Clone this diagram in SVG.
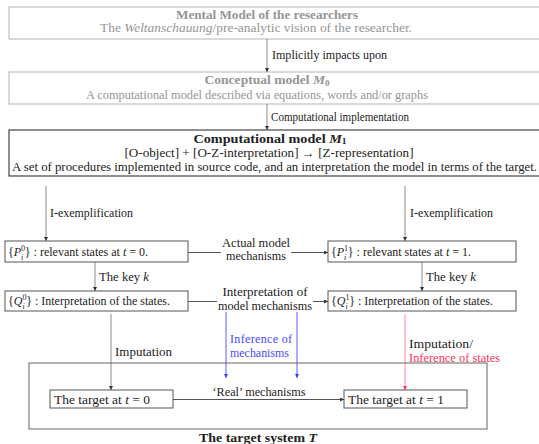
<svg xmlns="http://www.w3.org/2000/svg" width="539" height="444" viewBox="0 0 539 444">
<defs>
<style>
text{font-family:"Liberation Serif","DejaVu Serif",serif;font-size:12px;fill:#222}
.g{fill:#959595}
.b{font-weight:bold}
.i{font-style:italic}
.m{text-anchor:middle}
.lb{fill:#fff;stroke:#b4b4b4;stroke-width:1}
.bk{fill:#fff;stroke:#333;stroke-width:1.1}
.bx{fill:#fff;stroke:#555;stroke-width:1}
.c{fill:none;stroke:#8a8a8a;stroke-width:1}
.cd{fill:none;stroke:#555;stroke-width:1}
.cb{fill:none;stroke:#5a5aff;stroke-width:1}
.cr{fill:none;stroke:#ff8a9a;stroke-width:1}
.wb{fill:#fff;stroke:none}
.blue{fill:#4848ff}
.red{fill:#ff3355}
.s{font-size:8px}
.big{font-size:13px}
</style>
<marker id="ah" viewBox="0 0 6 6" refX="6" refY="3" markerWidth="4" markerHeight="4" orient="auto" markerUnits="userSpaceOnUse"><path d="M0,0 L6,3 L0,6 z" fill="#333"/></marker>
<marker id="ahb" viewBox="0 0 6 6" refX="6" refY="3" markerWidth="4" markerHeight="4" orient="auto" markerUnits="userSpaceOnUse"><path d="M0,0 L6,3 L0,6 z" fill="#3a3aff"/></marker>
<marker id="ahr" viewBox="0 0 6 6" refX="6" refY="3" markerWidth="4" markerHeight="4" orient="auto" markerUnits="userSpaceOnUse"><path d="M0,0 L6,3 L0,6 z" fill="#ff3355"/></marker>
</defs>

<g id="mental">
<rect class="lb" x="9" y="7" width="540" height="32"/>
<text class="g b m" x="267" y="19" textLength="182" lengthAdjust="spacingAndGlyphs">Mental Model of the researchers</text>
<text class="g m" x="256" y="32" textLength="312" lengthAdjust="spacingAndGlyphs">The <tspan class="i">Weltanschauung</tspan>/pre-analytic vision of the researcher.</text>
</g>

<g id="conceptual">
<rect class="lb" x="9" y="72" width="540" height="32"/>
<text class="g b m" x="267" y="84" textLength="125" lengthAdjust="spacingAndGlyphs">Conceptual model <tspan class="i">M</tspan><tspan class="s" dy="1.5">0</tspan></text>
<text class="g m" x="257" y="98.5" textLength="342" lengthAdjust="spacingAndGlyphs">A computational model described via equations, words and/or graphs</text>
</g>

<g id="computational">
<rect class="bk" x="9" y="130" width="540" height="46"/>
<text class="b m" x="270" y="142.5" textLength="153" lengthAdjust="spacingAndGlyphs">Computational model <tspan class="i">M</tspan><tspan class="s" dy="1.5">1</tspan></text>
<text class="m" x="269" y="157" textLength="289" lengthAdjust="spacingAndGlyphs">[O-object] + [O-Z-interpretation] → [Z-representation]</text>
<text x="12" y="171" textLength="525" lengthAdjust="spacingAndGlyphs">A set of procedures implemented in source code, and an interpretation the model in terms of the target.</text>
</g>

<g id="connectors">
<line class="c" x1="267" y1="39" x2="267" y2="72" marker-end="url(#ah)"/>
<line class="c" x1="267" y1="104" x2="267" y2="130" marker-end="url(#ah)"/>
<line class="c" x1="46" y1="186" x2="46" y2="241" marker-end="url(#ah)"/>
<line class="c" x1="405" y1="186" x2="405" y2="241" marker-end="url(#ah)"/>
<line class="cd" x1="188" y1="252.5" x2="328" y2="252.5" marker-end="url(#ah)"/>
<line class="c" x1="95" y1="262" x2="95" y2="291" marker-end="url(#ah)"/>
<line class="c" x1="422" y1="262" x2="422" y2="291" marker-end="url(#ah)"/>
<line class="cd" x1="188" y1="301.5" x2="328" y2="301.5" marker-end="url(#ah)"/>
<line class="c" x1="111" y1="314" x2="111" y2="390" marker-end="url(#ah)"/>
<line class="cb" x1="226" y1="312" x2="226" y2="378" marker-end="url(#ahb)"/>
<line class="cb" x1="297" y1="312" x2="297" y2="378" marker-end="url(#ahb)"/>
<line class="cr" x1="405" y1="314" x2="405" y2="390" marker-end="url(#ahr)"/>
<line class="cd" x1="173" y1="399.5" x2="344" y2="399.5" marker-end="url(#ah)"/>
<text x="272" y="59" textLength="115" lengthAdjust="spacingAndGlyphs">Implicitly impacts upon</text>
<text x="271" y="121" textLength="138" lengthAdjust="spacingAndGlyphs">Computational implementation</text>
<text x="50" y="217" textLength="83" lengthAdjust="spacingAndGlyphs">I-exemplification</text>
<text x="410" y="217" textLength="83" lengthAdjust="spacingAndGlyphs">I-exemplification</text>
<rect class="wb" x="221" y="236" width="70" height="26"/>
<text class="m" x="256" y="247" textLength="68" lengthAdjust="spacingAndGlyphs">Actual model</text>
<text class="m" x="256" y="260" textLength="60" lengthAdjust="spacingAndGlyphs">mechanisms</text>
<text x="99" y="281" textLength="50" lengthAdjust="spacingAndGlyphs">The key <tspan class="i">k</tspan></text>
<text x="426" y="281" textLength="50" lengthAdjust="spacingAndGlyphs">The key <tspan class="i">k</tspan></text>
<rect class="wb" x="217" y="285" width="96" height="27"/>
<text class="m" x="265" y="296" textLength="85" lengthAdjust="spacingAndGlyphs">Interpretation of</text>
<text class="m" x="265" y="310" textLength="94" lengthAdjust="spacingAndGlyphs">model mechanisms</text>
<text x="115" y="356" textLength="57" lengthAdjust="spacingAndGlyphs">Imputation</text>
<text class="blue" x="230" y="343" textLength="62">Inference of</text>
<text class="blue" x="230" y="357" textLength="59" lengthAdjust="spacingAndGlyphs">mechanisms</text>
<text x="409" y="348" textLength="64" lengthAdjust="spacingAndGlyphs">Imputation/</text>
<text class="red" x="409" y="362" textLength="91" lengthAdjust="spacingAndGlyphs">Inference of states</text>
<text class="m" x="259" y="396" textLength="93" lengthAdjust="spacingAndGlyphs">‘Real’ mechanisms</text>
</g>

<g id="p0">
<rect class="bx" x="5" y="241" width="183" height="21"/>
<text x="8" y="256">{<tspan class="i">P</tspan><tspan class="s" dy="-5">0</tspan><tspan class="s i" dx="-4" dy="9">i</tspan><tspan dx="1.5" dy="-4">} : relevant states at </tspan><tspan class="i">t</tspan> = 0.</text>
</g>
<g id="p1">
<rect class="bx" x="328" y="241" width="188" height="21"/>
<text x="331" y="256">{<tspan class="i">P</tspan><tspan class="s" dy="-5">1</tspan><tspan class="s i" dx="-4" dy="9">i</tspan><tspan dx="1.5" dy="-4">} : relevant states at </tspan><tspan class="i">t</tspan> = 1.</text>
</g>
<g id="q0">
<rect class="bx" x="5" y="291" width="183" height="20"/>
<text x="8" y="305">{<tspan class="i">Q</tspan><tspan class="s" dy="-5">0</tspan><tspan class="s i" dx="-4" dy="9">i</tspan><tspan dx="1.5" dy="-4">} : Interpretation of the states.</tspan></text>
</g>
<g id="q1">
<rect class="bx" x="328" y="291" width="188" height="20"/>
<text x="331" y="305">{<tspan class="i">Q</tspan><tspan class="s" dy="-5">1</tspan><tspan class="s i" dx="-4" dy="9">i</tspan><tspan dx="1.5" dy="-4">} : Interpretation of the states.</tspan></text>
</g>

<g id="target-system">
<rect fill="none" stroke="#666" stroke-width="1" x="29" y="363" width="458" height="66"/>
<text class="b m" x="258" y="442" textLength="118" lengthAdjust="spacingAndGlyphs">The target system <tspan class="i">T</tspan></text>
</g>
<g id="target0">
<rect class="bx" x="50" y="390" width="123" height="18"/>
<text class="big" x="54" y="403.5" textLength="96" lengthAdjust="spacingAndGlyphs">The target at <tspan class="i">t</tspan> = 0</text>
</g>
<g id="target1">
<rect class="bx" x="344" y="390" width="123" height="18"/>
<text class="big" x="348" y="403.5" textLength="96" lengthAdjust="spacingAndGlyphs">The target at <tspan class="i">t</tspan> = 1</text>
</g>
</svg>
